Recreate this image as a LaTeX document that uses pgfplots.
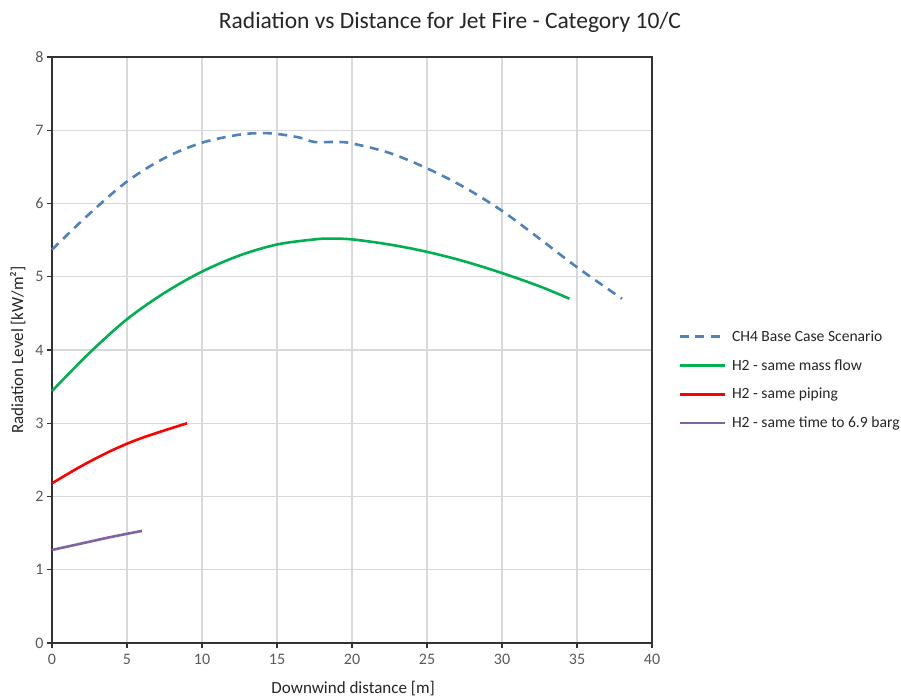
\documentclass[border=0pt]{standalone}
\usepackage{pgfplots}
\pgfplotsset{compat=1.18}
\usepackage{fontspec}
\setmainfont{Carlito}
\definecolor{chblue}{HTML}{4F81BD}
\definecolor{chgreen}{HTML}{00B050}
\definecolor{chred}{HTML}{FF0000}
\definecolor{chpurple}{HTML}{8064A2}
\definecolor{gridgray}{HTML}{D9D9D9}
\definecolor{ticktext}{HTML}{595959}
\begin{document}
\begin{tikzpicture}
\useasboundingbox (-52pt,-55pt) rectangle (849pt,643pt);
\begin{axis}[
  at={(0pt,0pt)}, anchor=south west,
  scale only axis,
  width=600pt, height=586pt,
  xmin=0, xmax=40, ymin=0, ymax=8,
  xtick={0,5,...,40}, ytick={0,1,...,8},
  grid=major,
  major grid style={gridgray, line width=1.1pt},
  axis line style={black!80, line width=1.3pt},
  tick style={black!80, line width=1.1pt},
  tick align=outside, major tick length=5pt,
  xtick pos=bottom, ytick pos=left,
  /pgf/number format/assume math mode=true,
  ticklabel style={font=\fontsize{16}{19}\selectfont, text=ticktext},
  xticklabel style={yshift=-3pt},
  xlabel={Downwind distance [m]},
  ylabel={Radiation Level [kW/m²]},
  label style={font=\fontsize{17}{20}\selectfont, text=black!85},
  xlabel style={at={(axis description cs:0.502,-0.077)}, anchor=center},
  ylabel style={at={(axis description cs:-0.057,0.5)}, anchor=center},
  legend style={at={(1.0387,0.449)}, anchor=west, draw=none, fill=none,
    font=\fontsize{15.6}{18}\selectfont, row sep=12.5pt,
    legend cell align=left, text=black!85},
  legend image code/.code={\draw[#1] (0pt,0pt) -- (45pt,0pt); \path (49pt,0pt);},
  clip=false,
  every axis plot/.append style={line width=2.6pt, smooth, tension=0.55},
]
\addplot[chblue, dash pattern=on 9pt off 6.5pt] coordinates {
(0,5.37) (2.5,5.86) (5,6.30) (7.5,6.62) (10,6.83) (12.5,6.94) (14,6.96) (15,6.95) (16.5,6.90) (17.5,6.84) (19,6.84) (20,6.82) (22.5,6.69) (25,6.48) (27.5,6.22) (30,5.90) (32.5,5.52) (35,5.13) (38,4.70)
};
\addlegendentry{CH4 Base Case Scenario}
\addplot[chgreen] coordinates {
(0,3.44) (2.5,3.96) (5,4.42) (7.5,4.78) (10,5.07) (12.5,5.29) (15,5.44) (17.5,5.51) (18.5,5.52) (20,5.51) (22.5,5.44) (25,5.34) (27.5,5.21) (30,5.05) (32.5,4.87) (34.5,4.70)
};
\addlegendentry{H2 - same mass flow}
\addplot[chred] coordinates {
(0,2.18) (2,2.42) (4,2.63) (6,2.80) (9,3.00)
};
\addlegendentry{H2 - same piping}
\addplot[chpurple] coordinates {
(0,1.27) (2,1.36) (4,1.45) (6,1.53)
};
\addlegendentry{H2 - same time to 6.9 barg}
\end{axis}
\node[font=\fontsize{23.5}{28}\selectfont, text=black!85] at (398pt,621pt) {Radiation vs Distance for Jet Fire - Category 10/C};
\end{tikzpicture}
\end{document}
